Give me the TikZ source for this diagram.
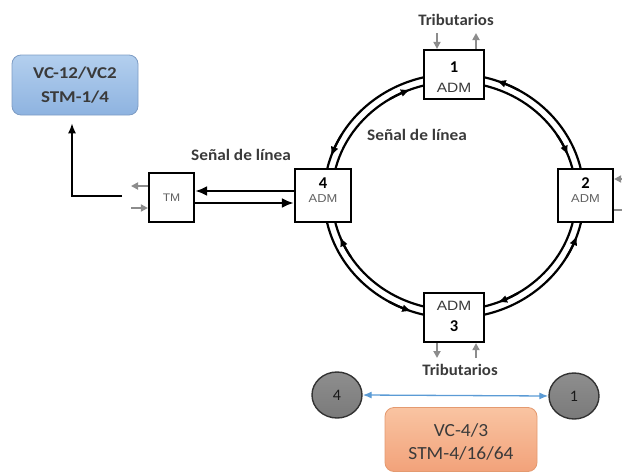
\documentclass[tikz,border=0pt]{standalone}
\usepackage{graphicx}
\usepackage{fontspec}
\setmainfont{Carlito}
\newfontfamily\arialfont{Liberation Sans}
\usetikzlibrary{arrows.meta,calc,shapes.geometric}

\newcommand{\wider}[2]{\scalebox{#1}[1]{#2}}

\definecolor{labelgray}{HTML}{3A3A3A}
\definecolor{tribgray}{HTML}{8C8C8C}
\definecolor{vcblueA}{HTML}{B3CFEE}
\definecolor{vcblueB}{HTML}{8EB3E0}
\definecolor{vcblueline}{HTML}{7D9CC4}
\definecolor{stmorA}{HTML}{F9C4A2}
\definecolor{stmorB}{HTML}{F2A27A}
\definecolor{stmorline}{HTML}{E49A70}
\definecolor{linkblue}{HTML}{5B9BD5}
\definecolor{nodegray}{HTML}{7A7A7A}

\begin{document}
\begin{tikzpicture}[x=1pt,y=-1pt,
  adm/.style={draw=black, line width=2.2pt, fill=white, inner sep=0pt},
  ringline/.style={draw=black, line width=2.2pt},
  ringtip/.style={line width=2.2pt, line cap=butt},
  link/.style={draw=black, line width=2.4pt},
  trib/.style={draw=tribgray, line width=1.8pt, -{Triangle[length=7pt,width=7pt]}},
  boldlabel/.style={text=labelgray, font=\bfseries\fontsize{16}{18}\selectfont, inner sep=0pt},
  digit/.style={text=black, font=\bfseries\fontsize{16.5}{18}\selectfont, inner sep=0pt},
  admtxt/.style={text=labelgray, font=\arialfont\fontsize{13.5}{15}\selectfont, inner sep=0pt},
  admtxtsmall/.style={text=labelgray!80, font=\arialfont\fontsize{11.5}{13}\selectfont, inner sep=0pt},
  ringnode/.style={ellipse, draw=black!80, line width=1.4pt, top color=nodegray!85, bottom color=nodegray, minimum width=50pt, minimum height=46pt, inner sep=0pt, text=black!90, font=\fontsize{16}{18}\selectfont}
]
\useasboundingbox (0,0) rectangle (622,472);

% the ring: two concentric lines, one per direction
\draw[ringline] (454,196) ellipse [x radius=130, y radius=122];
\draw[ringline] (454,196) ellipse [x radius=122, y radius=114];

% direction marks: outer line runs counterclockwise, inner line clockwise
\foreach \a in {90,180,270,360} {
  \draw[ringtip, {Latex[length=9.5pt,width=8pt]}-] plot[domain=\a+19:\a+30, samples=6]
    ({454+130*cos(\x)},{196+122*sin(\x)});
  \draw[ringtip, -{Latex[length=9.5pt,width=8pt]}] plot[domain=\a-32:\a-21, samples=6]
    ({454+122*cos(\x)},{196+114*sin(\x)});
}

% add/drop multiplexers on the ring
\node[adm, minimum width=60pt, minimum height=49pt] (a1) at (454,74.5) {};
\node[adm, minimum width=55pt, minimum height=53pt] (a2) at (585.5,195.5) {};
\node[adm, minimum width=60pt, minimum height=49pt] (a3) at (454,317.5) {};
\node[adm, minimum width=56pt, minimum height=53pt] (a4) at (323,195.5) {};
\node[adm, minimum width=45pt, minimum height=49pt] (tm) at (171.5,197.5) {};

\node[digit] (a1n) at (454,67) {1};
\node[admtxt] (a1t) at (454,87.5) {\wider{1.15}{ADM}};
\node[digit] (a2n) at (585.5,183) {2};
\node[admtxtsmall] (a2t) at (585.5,198.5) {\wider{1.12}{ADM}};
\node[admtxt] (a3t) at (454,306) {\wider{1.15}{ADM}};
\node[digit] (a3n) at (454,326.5) {3};
\node[digit] (a4n) at (323,183) {4};
\node[admtxtsmall] (a4t) at (323,198.5) {\wider{1.12}{ADM}};
\node[admtxtsmall, font=\arialfont\fontsize{11}{12}\selectfont] (tmt) at (171.5,198) {\wider{1.1}{TM}};

% line signal between terminal multiplexer and node 4
\draw[link, -{Latex[length=12pt,width=10pt]}] (a4.west |- 0,191) -- (tm.east |- 0,191);
\draw[link, -{Latex[length=12pt,width=10pt]}] (tm.east |- 0,203) -- (a4.west |- 0,203);

% tributaries
\coordinate (t1in) at (437,33);
\coordinate (t1out) at (476,33);
\draw[trib] (t1in) -- (a1.north -| t1in);
\draw[trib] (a1.north -| t1out) -- (t1out);
\coordinate (t3out) at (437,358);
\coordinate (t3in) at (476,358);
\draw[trib] (a3.south -| t3out) -- (t3out);
\draw[trib] (t3in) -- (a3.south -| t3in);
\coordinate (t2in) at (626,179);
\coordinate (t2out) at (632,210);
\draw[trib] (t2in) -- (a2.east |- t2in);
\draw[trib] (a2.east |- t2out) -- (t2out);
\coordinate (tmout) at (131,186);
\coordinate (tmin) at (131,208);
\draw[trib] (tm.west |- tmout) -- (tmout);
\draw[trib] (tmin) -- (tm.west |- tmin);

% text labels
\node[boldlabel] (trTop) at (456,20) {\wider{1.05}{Tributarios}};
\node[boldlabel] (trBot) at (460,370) {\wider{1.05}{Tributarios}};
\node[boldlabel] (sl1) at (241,155) {\wider{1.08}{Señal de línea}};
\node[boldlabel] (sl2) at (417,135) {\wider{1.08}{Señal de línea}};

% low-order container box and its drop path
\node[draw=vcblueline, line width=0.8pt, rounded corners=9pt, top color=vcblueA, bottom color=vcblueB,
      minimum width=126pt, minimum height=60pt, inner sep=0pt] (vc) at (75,85) {};
\node[text=labelgray, font=\bfseries\fontsize{16.5}{18}\selectfont, inner sep=0pt] (vc1) at (75,73.5) {\wider{1.15}{VC-12/VC2}};
\node[text=labelgray, font=\bfseries\fontsize{16.5}{18}\selectfont, inner sep=0pt] (vc2) at (75,97.5) {\wider{1.15}{STM-1/4}};
\coordinate (tmtap) at (122,196);
\draw[line width=1.4pt, -{Latex[length=10pt,width=8pt]}] (tmtap) -| ($(vc.south)+(-3,8)$);

% high-order path between nodes 4 and 1
\node[ringnode] (c4) at (337,395) {4};
\node[ringnode] (c1) at (574,396) {1};
\draw[linkblue, line width=1.3pt, {Latex[length=9pt,width=7pt]}-{Latex[length=9pt,width=7pt]}] (c4.east) -- (c1.west);

\node[draw=stmorline, line width=0.8pt, rounded corners=9pt, top color=stmorA, bottom color=stmorB,
      minimum width=152pt, minimum height=64pt, inner sep=0pt] (stm) at (461,439.5) {};
\node[text=labelgray, font=\fontsize{18.5}{20}\selectfont, inner sep=0pt] (stm1) at (461,430) {\wider{1.05}{VC-4/3}};
\node[text=labelgray, font=\fontsize{18.5}{20}\selectfont, inner sep=0pt] (stm2) at (461,453) {\wider{1.05}{STM-4/16/64}};
\end{tikzpicture}
\end{document}
